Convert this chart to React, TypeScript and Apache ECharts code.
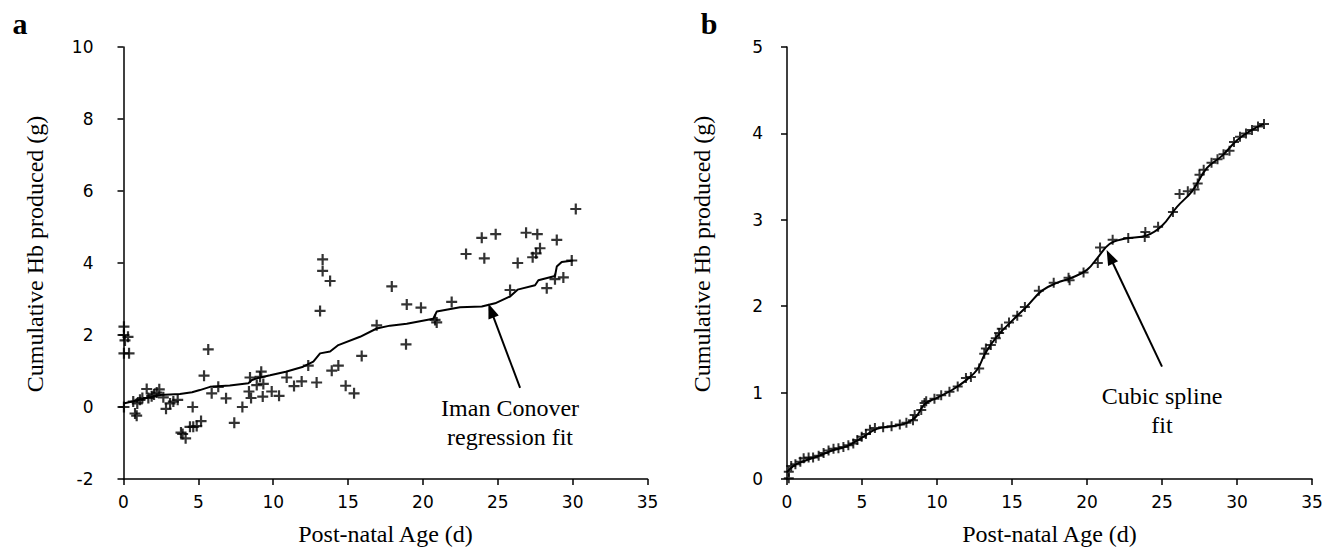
import React, { useEffect, useRef } from "react";
import * as echarts from "echarts";

// ---------- Panel a: observed cumulative Hb (scatter) ----------
const ageA = [
  0.03, 0.03, 0.3, 0.1, 0.03, 0.37, 0.03, 0.65, 0.77, 0.88, 0.92, 1.1, 1.26, 1.55, 1.66, 1.88, 2.04, 2.22, 2.39,
  2.66, 2.84, 3.11, 3.33, 3.62, 3.84, 3.95, 4.15, 4.44, 4.66, 4.89, 5.18, 4.62, 5.38, 5.66, 5.89, 6.33, 6.85, 7.4,
  7.94, 8.38, 8.52, 8.45, 8.9, 9.12, 9.2, 9.34, 9.3, 9.9, 10.39, 10.9, 11.39, 11.9, 12.34, 12.9, 13.13, 13.3, 13.3,
  13.8, 13.91, 14.35, 14.84, 15.4, 15.91, 16.91, 17.92, 18.87, 18.92, 19.87, 20.81, 20.92, 21.92, 22.88, 23.93,
  24.1, 24.86, 25.82, 26.33, 26.89, 27.33, 27.56, 27.64, 27.82, 28.27, 28.82, 28.94, 29.38, 29.94, 30.21,
];
const hbA = [
  2.23, 2.0, 1.95, 1.85, 1.49, 1.49, 0.0, 0.15, -0.18, -0.24, 0.1, 0.2, 0.25, 0.5, 0.25, 0.3, 0.35, 0.4, 0.49,
  0.27, -0.05, 0.1, 0.15, 0.2, -0.71, -0.75, -0.87, -0.55, -0.55, -0.53, -0.39, 0.0, 0.87, 1.6, 0.38, 0.56, 0.24,
  -0.44, 0.0, 0.43, 0.25, 0.82, 0.61, 0.84, 0.98, 0.64, 0.29, 0.43, 0.31, 0.82, 0.58, 0.71, 1.15, 0.68, 2.67, 3.78,
  4.1, 3.5, 1.01, 1.15, 0.59, 0.38, 1.42, 2.27, 3.35, 1.74, 2.85, 2.76, 2.42, 2.35, 2.92, 4.25, 4.7, 4.13, 4.8,
  3.25, 4.0, 4.84, 4.16, 4.27, 4.8, 4.41, 3.3, 3.55, 4.64, 3.6, 4.07, 5.5,
];

// Iman Conover regression fit (panel a)
const fitAgeA = [
  0, 0.65, 1.55, 2.44, 3.77, 4.58, 5.1, 5.78, 7.1, 8.34, 8.58, 8.92, 9.79, 10.84, 12.0, 12.68, 13.13, 13.8, 14.35,
  15.8, 16.91, 17.8, 18.92, 20.69, 20.92, 22.48, 23.93, 24.82, 25.82, 26.32, 27.49, 27.71, 28.82, 28.94, 29.27,
  30.03,
];
const fitHbA = [
  0.1, 0.16, 0.25, 0.33, 0.36, 0.41, 0.47, 0.56, 0.6, 0.66, 0.75, 0.8, 0.88, 0.98, 1.12, 1.26, 1.49, 1.54, 1.72,
  1.95, 2.18, 2.26, 2.31, 2.45, 2.65, 2.77, 2.79, 2.88, 3.07, 3.26, 3.38, 3.52, 3.64, 3.9, 4.03, 4.07,
];

// ---------- Panel b: cumulative Hb with cubic spline ----------
const ageB = [
  0.12, 0.12, 0.28, 0.56, 0.89, 1.11, 1.44, 1.74, 2.11, 2.44, 2.77, 3.1, 3.43, 3.76, 4.09, 4.42, 4.69, 4.98, 5.26,
  5.53, 5.86, 6.41, 6.97, 7.52, 7.96, 8.4, 8.51, 8.95, 9.17, 9.28, 9.83, 10.28, 10.83, 11.38, 11.93, 12.26, 12.81,
  13.15, 13.26, 13.59, 13.92, 14.14, 14.32, 14.8, 15.35, 15.86, 16.79, 17.78, 18.77, 18.84, 19.77, 20.72, 20.87,
  21.71, 22.75, 23.85, 23.89, 24.74, 25.73, 26.17, 26.72, 27.17, 27.38, 27.5, 27.78, 28.3, 28.7, 29.1, 29.5, 29.8,
  30.2, 30.6, 31.0, 31.4, 31.8,
];
const hbB = [
  0.01, 0.085, 0.15, 0.17, 0.2, 0.24, 0.25, 0.25, 0.27, 0.3, 0.33, 0.35, 0.355, 0.37, 0.39, 0.41, 0.45, 0.49, 0.52,
  0.57, 0.59, 0.6, 0.61, 0.63, 0.65, 0.68, 0.74, 0.8, 0.88, 0.9, 0.93, 0.97, 1.01, 1.07, 1.17, 1.18, 1.28, 1.45,
  1.51, 1.55, 1.63, 1.69, 1.74, 1.81, 1.89, 1.99, 2.18, 2.27, 2.33, 2.3, 2.39, 2.5, 2.68, 2.77, 2.79, 2.8, 2.86,
  2.92, 3.09, 3.3, 3.33, 3.35, 3.42, 3.52, 3.58, 3.66, 3.7, 3.76, 3.8, 3.9, 3.96, 4.0, 4.04, 4.08, 4.11,
];
const splineAgeB = [
  0, 0.5, 1, 2, 3, 4, 5, 6, 7, 8, 8.6, 9.2, 10, 11, 12, 12.7, 13.2, 14, 15, 16, 17, 18, 19, 20, 20.7, 21.5, 22.5,
  24, 25, 26, 27, 28, 29, 30, 31, 31.8,
];
const splineHbB = [
  0.08, 0.16, 0.2, 0.26, 0.33, 0.38, 0.48, 0.58, 0.61, 0.65, 0.72, 0.87, 0.94, 1.03, 1.15, 1.27, 1.45, 1.65, 1.83,
  2.0, 2.18, 2.27, 2.33, 2.42, 2.56, 2.72, 2.78, 2.82, 2.93, 3.15, 3.33, 3.6, 3.74, 3.92, 4.04, 4.11,
];

// ---------- Axes ----------
const xMin = 0, xMax = 35, xStep = 5;
const yMinA = -2, yMaxA = 10, yStepA = 2;
const yMinB = 0, yMaxB = 5, yStepB = 1;

const xTitle = "Post-natal Age (d)";
const yTitle = "Cumulative Hb produced (g)";

// annotations (data coordinates): arrow tip, arrow tail, text lines
const annA = { tip: [24.37, 2.875], tail: [26.49, 0.53], lines: ["Iman Conover", "regression fit"], textAt: [25.82, -0.04], lineGap: -0.78 };
const annB = { tip: [21.31, 2.65], tail: [25.0, 1.3], lines: ["Cubic spline", "fit"], textAt: [25.0, 0.96], lineGap: -0.33 };

const PLUS = "path://M4,0H6V4H10V6H6V10H4V6H0V4H4Z";
const SERIF = "'Times New Roman', 'Liberation Serif', serif";
const SANS = "'DejaVu Sans', sans-serif";

function zip(a: number[], b: number[]) {
  return a.map((v, i) => [v, b[i]]);
}

function axisCommon() {
  return {
    axisLine: { show: true, onZero: false, lineStyle: { color: "#000", width: 1.5 } },
    axisTick: { show: true, length: 6, lineStyle: { color: "#000", width: 1.5 } },
    splitLine: { show: false },
  };
}

export default function App() {
  const ref = useRef<HTMLDivElement>(null);
  useEffect(() => {
    if (!ref.current) return;
    const chart = echarts.init(ref.current, null, { renderer: "svg" });
    const option: any = {
      animation: false,
      backgroundColor: "#fff",
      grid: [
        { left: 123.5, top: 47, width: 524, height: 432 },
        { left: 787, top: 47, width: 525, height: 432 },
      ],
      xAxis: [0, 1].map((g) => ({
        type: "value",
        gridIndex: g,
        min: xMin,
        max: xMax,
        interval: xStep,
        ...axisCommon(),
        axisLabel: { color: "#000", fontFamily: SANS, fontSize: 17, margin: 14 },
      })),
      yAxis: [
        {
          type: "value",
          gridIndex: 0,
          min: yMinA,
          max: yMaxA,
          interval: yStepA,
          ...axisCommon(),
          axisLabel: { color: "#000", fontFamily: SANS, fontSize: 17, margin: 30 },
        },
        {
          type: "value",
          gridIndex: 1,
          min: yMinB,
          max: yMaxB,
          interval: yStepB,
          ...axisCommon(),
          axisLabel: { color: "#000", fontFamily: SANS, fontSize: 17, margin: 24 },
        },
      ],
      series: [
        {
          type: "line",
          xAxisIndex: 0,
          yAxisIndex: 0,
          data: zip(fitAgeA, fitHbA),
          showSymbol: false,
          lineStyle: { color: "#000", width: 2 },
          z: 2,
        },
        {
          type: "scatter",
          xAxisIndex: 0,
          yAxisIndex: 0,
          data: zip(ageA, hbA),
          symbol: PLUS,
          symbolSize: 11,
          itemStyle: { color: "#000" },
          z: 3,
        },
        {
          type: "line",
          xAxisIndex: 1,
          yAxisIndex: 1,
          data: zip(splineAgeB, splineHbB),
          smooth: 0.4,
          showSymbol: false,
          lineStyle: { color: "#000", width: 2 },
          z: 2,
        },
        {
          type: "scatter",
          xAxisIndex: 1,
          yAxisIndex: 1,
          data: zip(ageB, hbB),
          symbol: PLUS,
          symbolSize: 10,
          itemStyle: { color: "#000" },
          z: 3,
        },
      ],
    };
    chart.setOption(option);

    const px = (g: number, p: number[]) => chart.convertToPixel({ gridIndex: g } as any, p) as number[];
    const graphics: any[] = [];
    const text = (x: number, y: number, t: string, size: number, extra: any = {}) => ({
      type: "text",
      x,
      y,
      ...extra,
      style: {
        text: t,
        x: 0,
        y: 0,
        fill: "#000",
        fontFamily: SERIF,
        fontSize: size,
        align: "center",
        verticalAlign: "middle",
        ...(extra.style || {}),
      },
    });
    const arrow = (g: number, ann: any) => {
      const tip = px(g, ann.tip);
      const tail = px(g, ann.tail);
      const dx = tip[0] - tail[0];
      const dy = tip[1] - tail[1];
      const len = Math.hypot(dx, dy);
      const ux = dx / len, uy = dy / len;
      const hl = 15, hw = 5.5;
      const bx = tip[0] - ux * hl, by = tip[1] - uy * hl;
      graphics.push({
        type: "line",
        shape: { x1: tail[0], y1: tail[1], x2: bx + ux * 2, y2: by + uy * 2 },
        style: { stroke: "#000", lineWidth: 2 },
        z: 10,
      });
      graphics.push({
        type: "polygon",
        shape: {
          points: [
            [tip[0], tip[1]],
            [bx - uy * hw, by + ux * hw],
            [bx + uy * hw, by - ux * hw],
          ],
        },
        style: { fill: "#000" },
        z: 10,
      });
      ann.lines.forEach((l: string, i: number) => {
        const p = px(g, [ann.textAt[0], ann.textAt[1] + i * ann.lineGap]);
        graphics.push(text(p[0], p[1], l, 24));
      });
    };
    arrow(0, annA);
    arrow(1, annB);

    // axis titles
    [0, 1].forEach((g) => {
      const mid = px(g, [(xMin + xMax) / 2, g === 0 ? yMinA : yMinB]);
      graphics.push(text(mid[0], 534, xTitle, 24));
      const left = g === 0 ? 35 : 702;
      graphics.push(text(left, 254, yTitle, 24, { rotation: Math.PI / 2 }));
    });
    // panel letters
    graphics.push(text(20, 23, "a", 30, { style: { fontWeight: "bold" } }));
    graphics.push(text(709, 23, "b", 30, { style: { fontWeight: "bold" } }));

    chart.setOption({ graphic: graphics });
    return () => chart.dispose();
  }, []);
  return (
    <div
      ref={ref}
      style={{ position: "absolute", left: 0, top: 0, width: 1333, height: 553 }}
    />
  );
}
